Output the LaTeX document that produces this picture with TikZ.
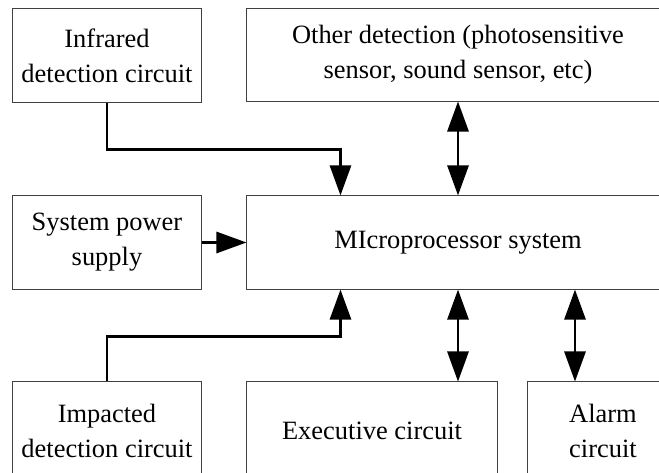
\documentclass[tikz,border=0pt]{standalone}
\usepackage{fontspec}
\setmainfont{Liberation Serif}
\usepackage{tikz}
\usetikzlibrary{positioning,arrows.meta,calc}
\definecolor{boxline}{HTML}{404040}

\tikzset{
  block/.style={draw=boxline, line width=0.7pt, align=center, inner sep=0pt,
    font=\fontsize{18.8pt}{24.8pt}\selectfont},
  conn/.style={line width=1.6pt, line join=miter},
  tip/.style={-{Triangle[length=0.75cm, width=0.53cm]}},
  tips/.style={{Triangle[length=0.75cm, width=0.53cm]}-{Triangle[length=0.75cm, width=0.53cm]}}
}

\begin{document}
\begin{tikzpicture}[x=0.025cm, y=-0.025cm]
  % Marco (recortado por los bordes)
  \useasboundingbox (0,0) rectangle (659,473);
  \clip (0,0) rectangle (659,473);

  % Bloques de arriba
  \node[block, minimum width=4.7cm, minimum height=2.33cm] (infra) at (107,55.5)
    {Infrared\\detection circuit};
  \node[block, minimum width=10.55cm, minimum height=2.3cm] (other) at (458,55)
    {Other detection (photosensitive\\sensor, sound sensor, etc)};

  % Bloques del medio
  \node[block, minimum width=4.7cm, minimum height=2.33cm] (power) at (107,242.5)
    {System power\\supply};
  \node[block, minimum width=10.55cm, minimum height=2.33cm] (micro) at (458,242.5)
    {MIcroprocessor system};

  % Bloques de abajo
  \node[block, minimum width=4.7cm, minimum height=2.45cm] (impact) at (107,431)
    {Impacted\\detection circuit};
  \node[block, minimum width=6.25cm, minimum height=2.45cm] (exec) at (372,431)
    {Executive circuit};
  \node[block, minimum width=3.75cm, minimum height=2.45cm] (alarm) at (603,431)
    {Alarm\\circuit};

  % Conexiones
  \draw[conn, tip] (infra.south) -- ++(0,47) -| ([xshift=2.35cm]micro.north west);
  \draw[conn, tip] (impact.north) -- ++(0,-45) -| ([xshift=2.35cm]micro.south west);
  \draw[conn, tip] (power.east) -- (micro.west);
  \draw[conn, tips] (other.south) -- (micro.north);
  \draw[conn, tips] (micro.south) -- (micro.south |- exec.north);
  \draw[conn, tips] ([xshift=-0.7cm]alarm.north |- micro.south) -- ([xshift=-0.7cm]alarm.north);
\end{tikzpicture}
\end{document}
